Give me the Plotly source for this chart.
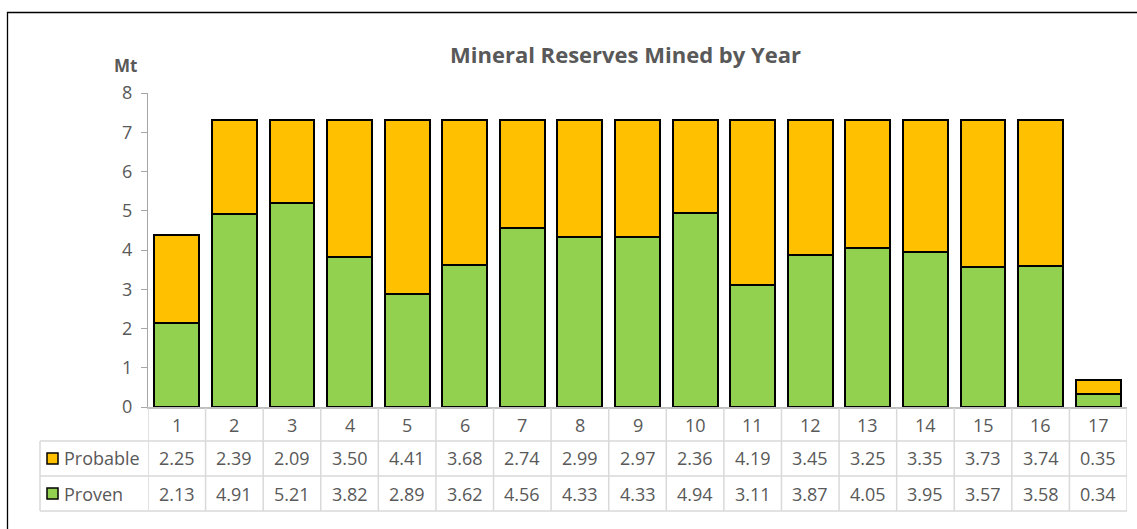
import plotly.graph_objects as go

years = [str(i) for i in range(1, 18)]
probable = [2.25, 2.39, 2.09, 3.50, 4.41, 3.68, 2.74, 2.99, 2.97, 2.36, 4.19, 3.45, 3.25, 3.35, 3.73, 3.74, 0.35]
proven = [2.13, 4.91, 5.21, 3.82, 2.89, 3.62, 4.56, 4.33, 4.33, 4.94, 3.11, 3.87, 4.05, 3.95, 3.57, 3.58, 0.34]
y_ticks = [0, 1, 2, 3, 4, 5, 6, 7, 8]

ORANGE = "#FFC000"
GREEN = "#92D050"
TEXT = "#595959"
GRID = "#D9D9D9"
FONT = "Open Sans"
FS = 18

W, H = 1137, 529
L, R, T, B = 148, 10, 93, 122
PW, PH = W - L - R, H - T - B

def px(x):
    return (x - L) / PW

def py(y):
    return (H - B - y) / PH

xs = list(range(1, len(years) + 1))

fig = go.Figure()
fig.add_trace(go.Bar(x=xs, y=proven, name="Proven", marker=dict(color=GREEN, line=dict(color="black", width=2))))
fig.add_trace(go.Bar(x=xs, y=probable, name="Probable", marker=dict(color=ORANGE, line=dict(color="black", width=2))))

shapes = []
annotations = []

def label(x, y, text, xref="paper", size=FS, xanchor="center", bold=False):
    annotations.append(dict(x=x, y=y, xref=xref, yref="paper", text=f"<b>{text}</b>" if bold else text,
                            showarrow=False, xanchor=xanchor, yanchor="middle",
                            font=dict(family=FONT, size=size, color=TEXT)))

# outer chart frame
shapes.append(dict(type="rect", xref="paper", yref="paper", x0=px(7.5), x1=px(1200), y0=py(12.5), y1=py(600),
                   line=dict(color="black", width=1.3), fillcolor="rgba(0,0,0,0)", layer="below"))

# data table beneath the axis
row_top = [407, 441, 476]
row_bot = [441, 476, 511]
label_left = 40
right_edge = 1127

for yy in (441, 476, 511):
    shapes.append(dict(type="line", xref="paper", yref="paper", x0=px(label_left), x1=px(right_edge), y0=py(yy), y1=py(yy),
                       line=dict(color=GRID, width=1.5)))
shapes.append(dict(type="line", xref="paper", yref="paper", x0=px(label_left), x1=px(label_left), y0=py(441), y1=py(511),
                   line=dict(color=GRID, width=1.5)))
for i in range(len(years) + 1):
    shapes.append(dict(type="line", xref="x", yref="paper", x0=i + 0.5, x1=i + 0.5, y0=py(408), y1=py(511),
                       line=dict(color=GRID, width=1.5)))

# category labels and values
for i, yr in enumerate(years):
    label(xs[i], py((row_top[0] + row_bot[0]) / 2 + 1), yr, xref="x")
    label(xs[i], py((row_top[1] + row_bot[1]) / 2), f"{probable[i]:.2f}", xref="x")
    label(xs[i], py((row_top[2] + row_bot[2]) / 2), f"{proven[i]:.2f}", xref="x")

# legend keys inside the table
for r, (name, col) in enumerate([("Probable", ORANGE), ("Proven", GREEN)], start=1):
    cy = (row_top[r] + row_bot[r]) / 2
    shapes.append(dict(type="rect", xref="paper", yref="paper", x0=px(47), x1=px(58), y0=py(cy - 5.5), y1=py(cy + 5.5),
                       fillcolor=col, line=dict(color="black", width=1.5)))
    label(px(62), py(cy), name, xanchor="left")

# title and unit label
label(px(625), py(54), "Mineral Reserves Mined by Year", size=22, bold=True)
label(px(125), py(66), "Mt", size=17, bold=True)

fig.update_layout(
    width=W, height=H,
    margin=dict(l=L, r=R, t=T, b=B),
    barmode="stack",
    bargap=0.22,
    showlegend=False,
    plot_bgcolor="white",
    paper_bgcolor="white",
    shapes=shapes,
    annotations=annotations,
    xaxis=dict(range=[0.5, len(years) + 0.5], showticklabels=False, ticks="", showgrid=False, zeroline=False,
               showline=True, linecolor="#BFBFBF", linewidth=1.5),
    yaxis=dict(range=[0, 8], tickvals=y_ticks, ticks="outside", ticklen=6, tickcolor="#A6A6A6", tickwidth=1.3,
               showline=True, linecolor="#A6A6A6", linewidth=1.3, showgrid=False, zeroline=False,
               tickfont=dict(family=FONT, size=FS, color=TEXT), ticklabelstandoff=5),
)

fig.write_html("out.html")
